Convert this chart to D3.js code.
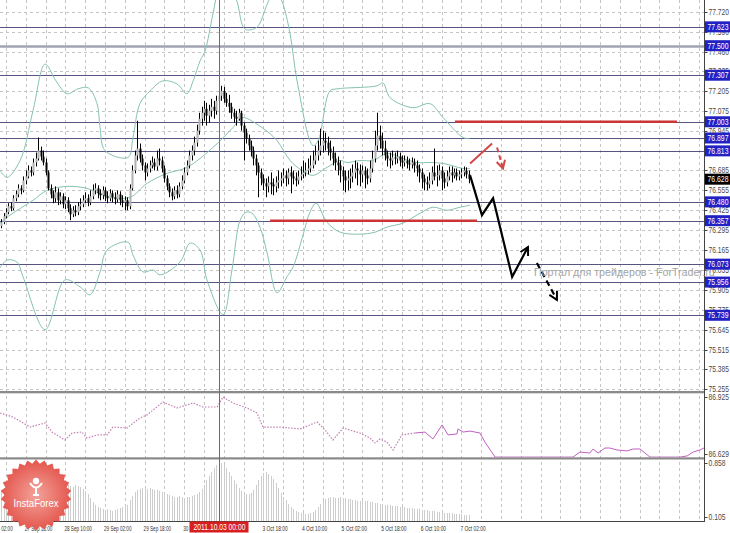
<!DOCTYPE html>
<html><head><meta charset="utf-8">
<script src="https://cdn.jsdelivr.net/npm/d3@7"></script>
<style>
html,body{margin:0;padding:0;background:#fff;}
svg{display:block;font-family:"Liberation Sans",Arial,sans-serif;}
</style></head><body>
<svg id="c" width="730" height="533"></svg>
<script>
// ---------- DATA (H1 candles, bar index 0..189) ----------
const opens = [
76.321,76.347,76.386,76.412,76.451,76.438,76.503,76.529,76.568,76.555,
76.620,76.646,76.685,76.672,76.737,76.763,76.815,76.776,76.737,76.672,
76.568,76.529,76.503,76.542,76.490,76.516,76.464,76.490,76.438,76.399,
76.425,76.412,76.451,76.464,76.490,76.503,76.477,76.516,76.555,76.568,
76.536,76.523,76.555,76.516,76.503,76.536,76.510,76.497,76.529,76.490,
76.477,76.490,76.451,76.568,76.685,76.783,76.828,76.763,76.718,76.672,
76.698,76.718,76.737,76.711,76.763,76.750,76.698,76.633,76.581,76.542,
76.516,76.555,76.529,76.581,76.620,76.672,76.718,76.783,76.815,76.867,
76.945,77.023,77.062,77.088,77.043,77.075,77.101,77.075,77.140,77.173,
77.205,77.153,77.127,77.101,77.062,77.036,77.023,77.062,76.978,76.932,
76.893,76.848,76.815,76.763,76.718,76.672,76.633,76.601,76.581,76.607,
76.594,76.581,76.607,76.620,76.633,76.653,76.633,76.672,76.646,76.633,
76.620,76.646,76.659,76.672,76.685,76.698,76.718,76.750,76.783,76.815,
76.848,76.880,76.867,76.828,76.802,76.763,76.737,76.718,76.685,76.646,
76.620,76.633,76.646,76.672,76.698,76.685,76.659,76.685,76.653,76.633,
76.698,76.763,76.848,76.913,76.880,76.828,76.783,76.763,76.750,76.770,
76.763,76.776,76.750,76.737,76.750,76.731,76.724,76.737,76.718,76.698,
76.672,76.633,76.607,76.594,76.620,76.672,76.646,76.653,76.685,76.633,
76.607,76.646,76.672,76.653,76.672,76.646,76.659,76.672,76.685,76.659];
const highs = [
76.367,76.406,76.438,76.471,76.477,76.523,76.555,76.594,76.588,76.646,
76.685,76.718,76.711,76.763,76.802,76.900,76.841,76.815,76.763,76.685,
76.594,76.555,76.581,76.568,76.542,76.536,76.516,76.510,76.464,76.451,
76.458,76.477,76.503,76.523,76.542,76.529,76.555,76.594,76.601,76.588,
76.562,76.581,76.575,76.549,76.562,76.555,76.542,76.555,76.549,76.523,
76.516,76.510,76.594,76.718,76.815,77.010,76.861,76.789,76.737,76.731,
76.750,76.776,76.763,76.815,76.828,76.776,76.718,76.653,76.601,76.568,
76.581,76.588,76.607,76.653,76.705,76.750,76.815,76.848,76.906,76.984,
77.062,77.101,77.140,77.127,77.114,77.153,77.140,77.173,77.218,77.238,
77.231,77.192,77.179,77.127,77.088,77.075,77.088,77.075,76.997,76.958,
76.919,76.880,76.841,76.789,76.737,76.698,76.659,76.633,76.646,76.672,
76.633,76.646,76.685,76.672,76.698,76.685,76.698,76.711,76.685,76.672,
76.685,76.711,76.750,76.737,76.763,76.783,76.815,76.848,76.880,76.958,
76.945,76.932,76.906,76.880,76.841,76.802,76.776,76.750,76.711,76.685,
76.685,76.698,76.724,76.750,76.737,76.724,76.718,76.711,76.698,76.750,
76.815,76.945,77.062,76.978,76.932,76.880,76.815,76.802,76.815,76.802,
76.815,76.802,76.783,76.783,76.776,76.763,76.770,76.763,76.750,76.724,
76.698,76.659,76.646,76.672,76.711,76.828,76.718,76.724,76.711,76.672,
76.685,76.711,76.711,76.698,76.698,76.685,76.698,76.711,76.705,76.685];
const lows = [
76.308,76.334,76.373,76.399,76.419,76.425,76.484,76.510,76.529,76.542,
76.594,76.633,76.646,76.653,76.711,76.750,76.750,76.718,76.653,76.555,
76.503,76.471,76.477,76.458,76.464,76.438,76.432,76.412,76.360,76.380,
76.386,76.393,76.425,76.445,76.471,76.451,76.458,76.497,76.529,76.503,
76.490,76.497,76.484,76.471,76.484,76.477,76.464,76.477,76.458,76.445,
76.425,76.425,76.432,76.555,76.666,76.750,76.737,76.685,76.620,76.646,
76.672,76.698,76.685,76.685,76.718,76.672,76.607,76.555,76.510,76.490,
76.497,76.503,76.510,76.562,76.601,76.653,76.698,76.750,76.783,76.841,
76.919,76.978,77.010,76.978,76.997,77.036,77.023,77.049,77.114,77.140,
77.127,77.101,77.062,77.023,76.997,76.978,77.010,76.945,76.750,76.861,
76.815,76.776,76.718,76.653,76.510,76.588,76.555,76.510,76.542,76.529,
76.523,76.542,76.568,76.581,76.601,76.581,76.594,76.536,76.594,76.581,
76.594,76.620,76.633,76.646,76.659,76.672,76.698,76.724,76.750,76.783,
76.802,76.815,76.783,76.750,76.718,76.685,76.653,76.607,76.555,76.542,
76.555,76.568,76.607,76.633,76.588,76.581,76.607,76.568,76.594,76.607,
76.672,76.737,76.815,76.828,76.783,76.750,76.711,76.698,76.718,76.724,
76.731,76.711,76.698,76.711,76.698,76.685,76.698,76.672,76.646,76.607,
76.568,76.555,76.555,76.568,76.594,76.620,76.581,76.620,76.555,76.568,
76.581,76.620,76.607,76.633,76.620,76.620,76.633,76.646,76.633,76.601];
const closes = [
76.347,76.386,76.412,76.451,76.438,76.503,76.529,76.568,76.555,76.620,
76.646,76.685,76.672,76.737,76.763,76.815,76.776,76.737,76.672,76.568,
76.529,76.503,76.542,76.490,76.516,76.464,76.490,76.438,76.399,76.425,
76.412,76.451,76.464,76.490,76.503,76.477,76.516,76.555,76.568,76.536,
76.523,76.555,76.516,76.503,76.536,76.510,76.497,76.529,76.490,76.477,
76.490,76.451,76.568,76.685,76.783,76.828,76.763,76.718,76.672,76.698,
76.718,76.737,76.711,76.763,76.750,76.698,76.633,76.581,76.542,76.516,
76.555,76.529,76.581,76.620,76.672,76.718,76.783,76.815,76.867,76.945,
77.023,77.062,77.088,77.043,77.075,77.101,77.075,77.140,77.173,77.205,
77.153,77.127,77.101,77.062,77.036,77.023,77.062,76.978,76.932,76.893,
76.848,76.815,76.763,76.718,76.672,76.633,76.601,76.581,76.607,76.594,
76.581,76.607,76.620,76.633,76.653,76.633,76.672,76.646,76.633,76.620,
76.646,76.659,76.672,76.685,76.698,76.718,76.750,76.783,76.815,76.848,
76.880,76.867,76.828,76.802,76.763,76.737,76.718,76.685,76.646,76.620,
76.633,76.646,76.672,76.698,76.685,76.659,76.685,76.653,76.633,76.698,
76.763,76.848,76.913,76.880,76.828,76.783,76.763,76.750,76.770,76.763,
76.776,76.750,76.737,76.750,76.731,76.724,76.737,76.718,76.698,76.672,
76.633,76.607,76.594,76.620,76.672,76.646,76.653,76.685,76.633,76.607,
76.646,76.672,76.653,76.672,76.646,76.659,76.672,76.685,76.659,76.628];
// lower histogram indicator (one value per bar)
const histValues = [
0.482,0.482,0.496,0.468,0.510,0.496,0.482,0.454,0.468,0.482,
0.468,0.482,0.496,0.510,0.523,0.510,0.496,0.482,0.510,0.523,
0.537,0.551,0.537,0.565,0.551,0.551,0.565,0.551,0.537,0.523,
0.551,0.537,0.523,0.496,0.468,0.426,0.370,0.314,0.273,0.245,
0.231,0.217,0.203,0.217,0.203,0.189,0.203,0.217,0.231,0.245,
0.259,0.273,0.342,0.398,0.454,0.482,0.496,0.510,0.510,0.496,
0.510,0.496,0.482,0.482,0.468,0.454,0.440,0.426,0.412,0.398,
0.384,0.384,0.398,0.384,0.370,0.384,0.384,0.398,0.412,0.426,
0.454,0.496,0.551,0.621,0.677,0.733,0.788,0.830,0.872,0.858,
0.830,0.788,0.733,0.677,0.621,0.565,0.510,0.468,0.440,0.426,
0.426,0.440,0.482,0.551,0.621,0.677,0.719,0.733,0.705,0.677,
0.635,0.579,0.510,0.440,0.384,0.342,0.286,0.245,0.217,0.189,
0.175,0.161,0.161,0.147,0.147,0.161,0.175,0.203,0.245,0.286,
0.328,0.356,0.370,0.384,0.384,0.370,0.370,0.384,0.370,0.370,
0.356,0.356,0.342,0.342,0.328,0.328,0.342,0.328,0.328,0.314,
0.314,0.300,0.300,0.286,0.286,0.273,0.273,0.273,0.259,0.259,
0.259,0.245,0.245,0.245,0.231,0.231,0.231,0.217,0.217,0.217,
0.203,0.203,0.203,0.189,0.189,0.189,0.175,0.175,0.175,0.161,
0.161,0.161,0.161,0.147,0.147,0.147,0.147,0.133,0.133,0.133];
// Bollinger bands: [bar index, price]
const upperBand = [[-0.4,76.685],[2.4,76.640],[7.7,76.750],[12.9,77.075],[17.8,77.380],[22.2,77.270],[26.7,77.186],[31.1,77.218],[35.2,77.225],[38.8,77.121],[40.0,76.965],[42.0,76.815],[51.3,76.770],[53.3,76.900],[56.1,77.121],[60.2,77.205],[65.4,77.270],[71.1,77.250],[75.1,77.186],[77.6,77.270],[80.4,77.400],[82.4,77.465],[85.6,77.706],[87.7,77.855],[91.3,77.953],[95.3,77.790],[98.6,77.608],[103.4,77.621],[107.5,77.770],[110.7,77.868],[113.5,77.790],[116.8,77.576],[119.6,77.270],[126.0,76.848],[128.1,76.880],[132.9,77.205],[135.7,77.218],[151.9,77.238],[154.3,77.257],[157.2,77.160],[166.4,77.095],[173.3,77.121],[178.6,77.030],[186.7,76.900],[189.5,76.893]];
const middleBand = [[-0.4,76.341],[3.6,76.393],[12.9,76.490],[18.6,76.555],[26.7,76.581],[34.7,76.568],[44.0,76.510],[52.1,76.510],[59.0,76.601],[67.1,76.666],[75.1,76.705],[85.6,76.835],[93.7,76.965],[97.4,77.030],[105.4,76.965],[111.5,76.880],[116.8,76.750],[121.6,76.685],[126.0,76.653],[131.7,76.705],[137.0,76.750],[139.8,76.737],[145.0,76.750],[150.3,76.750],[155.9,76.796],[162.4,76.763],[168.1,76.737],[173.3,76.737],[178.6,76.731],[186.7,76.698],[189.5,76.698]];
const lowerBand = [[-0.4,76.048],[2.4,76.100],[6.4,76.087],[8.9,75.990],[17.8,75.645],[25.8,75.970],[31.9,75.925],[35.9,75.873],[40.0,76.022],[42.8,76.165],[51.3,76.217],[53.3,76.133],[57.4,76.022],[61.4,76.035],[64.2,76.003],[72.3,76.087],[76.4,76.211],[80.4,76.165],[83.2,75.970],[89.7,75.743],[93.3,76.035],[96.6,76.360],[99.0,76.412],[101.4,76.406],[104.6,76.315],[107.5,76.146],[111.5,75.886],[115.5,75.990],[118.0,76.055],[122.0,76.263],[124.8,76.412],[127.3,76.471],[131.7,76.347],[137.0,76.282],[145.0,76.269],[151.1,76.282],[155.9,76.315],[162.4,76.341],[169.3,76.406],[174.5,76.445],[180.2,76.425],[185.4,76.445],[189.5,76.458]];
// middle indicator panel: [bar index, value]
const indicatorDotted = [[-0.4,86.842],[4.8,86.821],[11.7,86.769],[17.8,86.790],[20.6,86.743],[25.8,86.702],[28.7,86.738],[32.7,86.743],[34.7,86.712],[38.8,86.728],[42.8,86.728],[45.2,86.769],[50.9,86.764],[56.1,86.816],[59.0,86.832],[65.4,86.899],[71.1,86.868],[77.6,86.894],[81.6,86.873],[87.3,86.873],[89.7,86.925],[93.7,86.894],[99.4,86.868],[103.4,86.842],[105.8,86.769],[112.7,86.769],[120.8,86.759],[127.7,86.795],[130.9,86.754],[134.1,86.702],[138.2,86.764],[145.0,86.738],[149.1,86.712],[151.1,86.686],[153.1,86.707],[155.9,86.691],[158.4,86.650],[162.0,86.728],[167.3,86.738]];
const indicatorSolid = [[167.3,86.738],[171.3,86.743],[174.5,86.707],[178.2,86.780],[180.6,86.728],[184.2,86.733],[184.6,86.759],[186.7,86.743],[189.5,86.748],[193.5,86.738],[195.5,86.691],[199.6,86.613],[231.1,86.613],[233.9,86.639],[237.9,86.634],[239.2,86.655],[241.2,86.634],[244.0,86.660],[246.0,86.660],[248.9,86.650],[252.9,86.645],[255.4,86.655],[258.2,86.655],[260.2,86.634],[262.2,86.613],[274.3,86.613],[277.2,86.619],[279.6,86.639],[282.4,86.650],[284.0,86.660]];
// axes
const priceTicks = [77.720,77.590,77.460,77.335,77.205,77.075,76.945,76.815,76.685,76.555,76.425,76.295,76.165,76.035,75.905,75.775,75.645,75.515,75.385,75.255];
const levelValues = [77.623,77.500,77.307,77.003,76.897,76.813,76.480,76.357,76.073,75.956,75.739];
const currentPrice = 76.628;
const panel2Ticks = [86.925,86.629];
const panel3Ticks = [0.858,0.105];
const timeTickBars = [-6,10,26,42,58,74,90,106,122,138,154,170,186];
const timeTickLabels = ["27 Sep 02:00","27 Sep 18:00","28 Sep 10:00","29 Sep 02:00","29 Sep 18:00","30 Sep 10:00","3 Oct 02:00","3 Oct 18:00","4 Oct 10:00","5 Oct 02:00","5 Oct 18:00","6 Oct 10:00","7 Oct 02:00"];
const crosshairBar = 88, crosshairLabel = "2011.10.03 00:00";
// drawn analysis
const redLevels = [{price:77.003, from:183.4, to:273.1},{price:76.357, from:108.7, to:192.3}];
const forecastSolid = [[189.5,76.653],[194.3,76.393],[198.8,76.503],[206.5,75.990],[212.9,76.185]];
const forecastDashed = [[216.5,76.081],[224.6,75.840]];
const redSolid = [[189.5,76.731],[198.4,76.861]];
const redDashed = [[200.4,76.835],[202.8,76.698]];
const watermark = "Портал для трейдеров - ForTrader.ru";

// ---------- SCALES ----------
const PR = 704;
const x = d3.scaleLinear().domain([0,284]).range([1.05, 1.05+2.475*284]);
const y = d3.scaleLinear().domain([75.255,77.720]).range([389.4,12.0]);
const y2 = d3.scaleLinear().domain([86.629,86.925]).range([454,397]);
const y3 = d3.scaleLinear().domain([0.105,0.858]).range([517,463]);
const svg = d3.select('#c');
svg.append('rect').attr('width',730).attr('height',533).attr('fill','#fff');
const defs = svg.append('defs');
defs.append('clipPath').attr('id','cMain').append('rect').attr('x',0).attr('y',0).attr('width',PR).attr('height',390.5);
defs.append('clipPath').attr('id','cP2').append('rect').attr('x',0).attr('y',393).attr('width',PR).attr('height',64.5);
defs.append('clipPath').attr('id','cP3').append('rect').attr('x',0).attr('y',459.5).attr('width',PR).attr('height',61.5);

const xr = v => Math.round(x(v)) + 0.5;

// squeezed text helper (the original screenshot uses a condensed font)
function sq(parent, px, py, txt, fs, targetW, fill, anchor){
  const g = parent.append('g');
  const t = g.append('text').attr('x',0).attr('y',0).attr('font-size',fs).attr('fill',fill)
    .attr('text-anchor',anchor||'start').text(txt);
  const w = t.node().getComputedTextLength() || targetW;
  g.attr('transform',`translate(${px},${py}) scale(${targetW/w},1)`);
  return t;
}

// ---------- GRID ----------
const gridBars = d3.range(-6, 285, 8);
svg.append('g').selectAll('line').data(gridBars).join('line')
  .attr('x1',xr).attr('x2',xr).attr('y1',0).attr('y2',521)
  .attr('stroke','#c4c4c4').attr('stroke-dasharray','3,3');
svg.append('g').selectAll('line').data(priceTicks).join('line')
  .attr('x1',0).attr('x2',PR).attr('y1',d=>Math.round(y(d))+0.5).attr('y2',d=>Math.round(y(d))+0.5)
  .attr('stroke','#c4c4c4').attr('stroke-dasharray','3,3');

// ---------- MAIN PANEL ----------
const gm = svg.append('g').attr('clip-path','url(#cMain)');
gm.selectAll('line.lvl').data(levelValues).join('line').attr('class','lvl')
  .attr('x1',0).attr('x2',PR).attr('y1',d=>Math.round(y(d))+0.5).attr('y2',d=>Math.round(y(d))+0.5)
  .attr('stroke',d=>d===77.500?'#a2a2b6':'#55557f').attr('stroke-width',d=>d===77.500?2.5:1);
const bandLine = d3.line().x(d=>x(d[0])).y(d=>y(d[1])).curve(d3.curveCatmullRom.alpha(0.5));
[upperBand,middleBand,lowerBand].forEach(b=>{
  gm.append('path').attr('d',bandLine(b)).attr('fill','none').attr('stroke','#86c2b2').attr('stroke-width',1);
});
const bars = closes.map((c,i)=>({i,o:opens[i],h:highs[i],l:lows[i],c}));
gm.selectAll('line.wick').data(bars).join('line').attr('class','wick')
  .attr('x1',d=>xr(d.i)).attr('x2',d=>xr(d.i)).attr('y1',d=>y(d.h)).attr('y2',d=>y(d.l))
  .attr('stroke','#000').attr('stroke-width',1);
gm.selectAll('rect.body').data(bars).join('rect').attr('class','body')
  .attr('x',d=>xr(d.i)-1).attr('width',2)
  .attr('y',d=>y(Math.max(d.o,d.c))).attr('height',d=>Math.max(1,Math.abs(y(d.o)-y(d.c))))
  .attr('fill',d=>d.c>=d.o?'#b0b0b0':'#000');
gm.selectAll('line.red').data(redLevels).join('line').attr('class','red')
  .attr('x1',d=>x(d.from)).attr('x2',d=>x(d.to)).attr('y1',d=>y(d.price)).attr('y2',d=>y(d.price))
  .attr('stroke','#cc3535').attr('stroke-width',2.5);
const pl = d3.line().x(d=>x(d[0])).y(d=>y(d[1]));
function arrowHead(g, pts, color){
  const a = pts[pts.length-2], b = pts[pts.length-1];
  const ax=x(a[0]), ay=y(a[1]), bx=x(b[0]), by=y(b[1]);
  const ang = Math.atan2(by-ay, bx-ax), L = 9;
  const w1 = [bx - L*Math.cos(ang-0.5), by - L*Math.sin(ang-0.5)];
  const w2 = [bx - L*Math.cos(ang+0.5), by - L*Math.sin(ang+0.5)];
  g.append('path').attr('d',`M${w1[0]},${w1[1]}L${bx},${by}L${w2[0]},${w2[1]}`)
    .attr('fill','none').attr('stroke',color).attr('stroke-width',2);
}
gm.append('path').attr('d',pl(forecastSolid)).attr('fill','none').attr('stroke','#000').attr('stroke-width',2.2).attr('stroke-linejoin','miter');
arrowHead(gm, forecastSolid, '#000');
gm.append('path').attr('d',pl(forecastDashed)).attr('fill','none').attr('stroke','#000').attr('stroke-width',2.2).attr('stroke-dasharray','6,4');
arrowHead(gm, forecastDashed, '#000');
gm.append('path').attr('d',pl(redSolid)).attr('fill','none').attr('stroke','#d04848').attr('stroke-width',2);
gm.append('path').attr('d',pl(redDashed)).attr('fill','none').attr('stroke','#d04848').attr('stroke-width',2).attr('stroke-dasharray','5,3');
arrowHead(gm, redDashed, '#d04848');

// ---------- PANEL 2 ----------
const g2 = svg.append('g').attr('clip-path','url(#cP2)');
const l2 = d3.line().x(d=>x(d[0])).y(d=>y2(d[1]));
g2.append('path').attr('d',l2(indicatorDotted)).attr('fill','none').attr('stroke','#c27fb2').attr('stroke-width',1.2).attr('stroke-dasharray','1.5,1.5');
g2.append('path').attr('d',l2(indicatorSolid)).attr('fill','none').attr('stroke','#c060c0').attr('stroke-width',1);

// ---------- PANEL 3 ----------
const g3 = svg.append('g').attr('clip-path','url(#cP3)');
g3.selectAll('line').data(histValues).join('line')
  .attr('x1',(d,i)=>xr(i)).attr('x2',(d,i)=>xr(i)).attr('y1',521).attr('y2',d=>y3(d))
  .attr('stroke','#cdcdcd').attr('stroke-width',1);

// ---------- SEPARATORS / AXES ----------
svg.append('rect').attr('x',0).attr('y',391).attr('width',PR).attr('height',2.3).attr('fill','#8a8a8a');
svg.append('rect').attr('x',0).attr('y',457.3).attr('width',PR).attr('height',2.2).attr('fill','#8a8a8a');
svg.append('line').attr('x1',xr(crosshairBar)).attr('x2',xr(crosshairBar)).attr('y1',0).attr('y2',521)
  .attr('stroke','#e03c3c').attr('stroke-width',1);
svg.append('line').attr('x1',704.5).attr('x2',704.5).attr('y1',0).attr('y2',522).attr('stroke','#444');
svg.append('line').attr('x1',0).attr('x2',705).attr('y1',521.5).attr('y2',521.5).attr('stroke','#444');

const ax = svg.append('g');
function axisLabel(py, txt){
  ax.append('line').attr('x1',704.5).attr('x2',707.5).attr('y1',Math.round(py)+0.5).attr('y2',Math.round(py)+0.5).attr('stroke','#444');
  sq(ax, 708.5, py+3, txt, 8.5, txt.length*3.4, '#4a4a4a');
}
priceTicks.forEach(v=>axisLabel(y(v), v.toFixed(3)));
panel2Ticks.forEach(v=>axisLabel(y2(v), v.toFixed(3)));
panel3Ticks.forEach(v=>axisLabel(y3(v), v.toFixed(3)));

function boxLabel(v, fill){
  const py = y(v);
  svg.append('rect').attr('x',705).attr('y',py-5.5).attr('width',25).attr('height',11).attr('fill',fill);
  sq(svg, 707.5, py+3.2, v.toFixed(3), 9, 21, '#fff');
}
levelValues.forEach(v=>boxLabel(v,'#2222c4'));
boxLabel(currentPrice,'#000');

// watermark
sq(svg, 534, 276, watermark, 10.5, 181, '#a4a4a4');

// time axis
const tx = svg.append('g');
timeTickBars.forEach((b,k)=>{
  const t = timeTickLabels[k];
  sq(tx, x(b)-1, 530.5, t, 8, t.length*2.3, '#333');
});
const cx = xr(crosshairBar);
svg.append('rect').attr('x',cx-30).attr('y',521.5).attr('width',59).attr('height',11).attr('fill','#d81f1f');
sq(svg, cx, 530.3, crosshairLabel, 9, 52, '#fff', 'middle');

// ---------- LOGO ----------
const grad = defs.append('radialGradient').attr('id','lgGrad');
grad.append('stop').attr('offset','0%').attr('stop-color','#f3a39b');
grad.append('stop').attr('offset','100%').attr('stop-color','#e4564d');
const lg = svg.append('g').attr('transform','translate(36,495)');
const teeth = 26;
const star = d3.range(teeth*2).map(k=>{const a=k*Math.PI/teeth - Math.PI/2; const r=k%2?31.5:35.5; return [r*Math.cos(a), r*Math.sin(a)];});
lg.append('path').attr('d','M'+star.map(p=>p.join(',')).join('L')+'Z').attr('fill','url(#lgGrad)');
lg.append('circle').attr('cx',0).attr('cy',-14).attr('r',3.2).attr('fill','#fff');
lg.append('path').attr('d','M-6,-12 Q0,-3 6,-12 M0,-8 L0,0 M-3,0 L3,0').attr('fill','none').attr('stroke','#fff').attr('stroke-width',2);
sq(lg, 0, 12, 'InstaForex', 11, 45, '#fff', 'middle');
</script>
</body></html>
